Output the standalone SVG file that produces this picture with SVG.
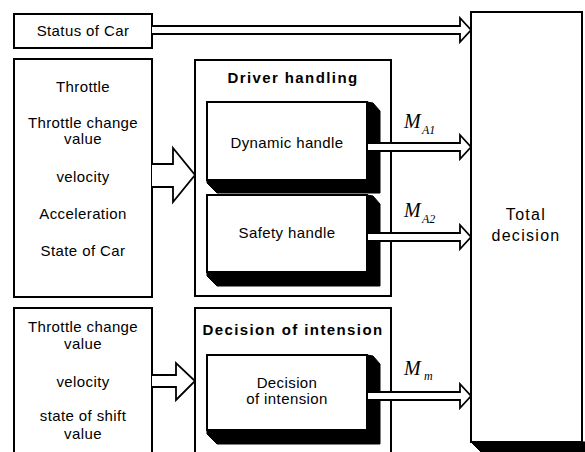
<svg xmlns="http://www.w3.org/2000/svg" width="585" height="452" viewBox="0 0 585 452">
<style>
.box{fill:#fff;stroke:#000;stroke-width:2}
.shadow{fill:#000;stroke:#000;stroke-width:1}
.arrow{fill:#fff;stroke:#000;stroke-width:1.8;stroke-linejoin:miter}
.t{font-family:"Liberation Sans",Arial,sans-serif;font-size:15px;letter-spacing:0.4px;text-anchor:middle;fill:#000}
.title{font-family:"Liberation Sans",Arial,sans-serif;font-size:15px;font-weight:bold;letter-spacing:1.4px;text-anchor:middle;fill:#000}
.big{font-family:"Liberation Sans",Arial,sans-serif;font-size:16px;letter-spacing:1.3px;text-anchor:middle;fill:#000}
.m{font-family:"Liberation Serif","Times New Roman",serif;font-style:italic;font-size:20px;fill:#000}
.sub{font-family:"Liberation Serif","Times New Roman",serif;font-style:italic;font-size:12px;fill:#000}
</style>
<rect width="585" height="452" fill="#fff"/>

<g id="total-decision">
<polygon class="shadow" points="471,442 582,442 585,442 585,452 481,452"/>
<rect class="box" x="471" y="12" width="111" height="430"/>
<text class="big" x="526" y="220">Total</text>
<text class="big" x="526" y="241">decision</text>
</g>

<g id="status-of-car">
<rect class="box" x="14" y="14" width="138" height="34"/>
<text class="t" x="83" y="36">Status of Car</text>
</g>

<g id="inputs-driver">
<rect class="box" x="14" y="59" width="138" height="238"/>
<text class="t" x="83" y="92">Throttle</text>
<text class="t" x="83" y="128">Throttle change</text>
<text class="t" x="83" y="144">value</text>
<text class="t" x="83" y="182">velocity</text>
<text class="t" x="83" y="219">Acceleration</text>
<text class="t" x="83" y="256">State of Car</text>
</g>

<g id="driver-handling">
<rect class="box" x="195" y="60" width="196" height="236"/>
<text class="title" x="293" y="83">Driver handling</text>
</g>

<g id="dynamic-handle">
<polygon class="shadow" points="367,102 373,103 380,111 380,193 217,193 207,183 207,180 367,180"/>
<rect class="box" x="207" y="102" width="160" height="78"/>
<text class="t" x="287" y="148">Dynamic handle</text>
</g>

<g id="safety-handle">
<polygon class="shadow" points="367,195 373,196 380,204 380,286 217,286 207,276 207,272 367,272"/>
<rect class="box" x="207" y="195" width="160" height="77"/>
<text class="t" x="287" y="238">Safety handle</text>
</g>

<g id="inputs-intension">
<rect class="box" x="14" y="308" width="138" height="160"/>
<text class="t" x="83" y="332">Throttle change</text>
<text class="t" x="83" y="349">value</text>
<text class="t" x="83" y="387">velocity</text>
<text class="t" x="83" y="421">state of shift</text>
<text class="t" x="83" y="439">value</text>
</g>

<g id="decision-of-intension">
<rect class="box" x="195" y="308" width="196" height="160"/>
<text class="title" x="293" y="335">Decision of intension</text>
</g>

<g id="decision-inner">
<polygon class="shadow" points="367,355 373,356 380,364 380,444 217,444 207,434 207,430 367,430"/>
<rect class="box" x="207" y="355" width="160" height="75"/>
<text class="t" x="287" y="388">Decision</text>
<text class="t" x="287" y="404">of intension</text>
</g>

<g id="connectors">
<path class="arrow" d="M152,26 H460 V18 L471,30 L460,42 V34 H152"/>
<path class="arrow" d="M152,164 H173 V148 L195,175 L173,202 V187 H152"/>
<path class="arrow" d="M152,375 H176 V363 L195,381 L176,400 V387 H152"/>
<path class="arrow" d="M368,143 H460 V135 L471,147 L460,159 V151 H368"/>
<path class="arrow" d="M368,233 H460 V225 L471,237 L460,249 V241 H368"/>
<path class="arrow" d="M368,392 H460 V384 L471,396 L460,408 V400 H368"/>
</g>

<g id="labels">
<text class="m" x="404" y="128">M</text><text class="sub" x="422" y="134">A1</text>
<text class="m" x="404" y="217">M</text><text class="sub" x="422" y="223">A2</text>
<text class="m" x="404" y="375">M</text><text class="sub" x="424" y="380">m</text>
</g>
</svg>
